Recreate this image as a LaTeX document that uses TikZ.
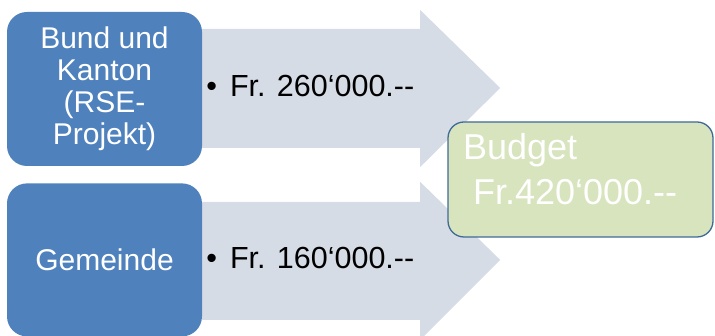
\documentclass[tikz,border=0pt]{standalone}
\usepackage{fontspec}
\setmainfont{Liberation Sans}
\usetikzlibrary{positioning,calc,backgrounds}

\definecolor{srcblue}{HTML}{4F81BD}
\definecolor{flowgray}{HTML}{D6DCE6}
\definecolor{budgetgreen}{HTML}{D7E4BD}
\definecolor{budgetline}{HTML}{3F6A98}

\begin{document}
\begin{tikzpicture}[
  x=1pt, y=1pt,
  node distance=17pt and 4pt,
  source/.style={rectangle, rounded corners=20pt, fill=srcblue, text=white, align=center,
    minimum width=195pt, inner sep=0pt, font=\fontsize{30}{32}\selectfont},
  amount/.style={anchor=base west, inner sep=0pt, font=\fontsize{30.5}{32}\selectfont},
  flow/.style={fill=flowgray},
  budgetbox/.style={rectangle, rounded corners=16pt, draw=budgetline, line width=1.3pt, fill=budgetgreen,
    text=white, align=left, text width=235pt, minimum width=265pt, minimum height=115pt,
    text depth=66pt, inner sep=3pt, font=\fontsize{36}{45}\selectfont}
]
\useasboundingbox (0,0) rectangle (715,336);

% Nodes
\node[source, minimum height=154pt] (bund) at (104.5,247) {Bund und\\Kanton\\(RSE-\\Projekt)};
\node[source, minimum height=153pt, below=of bund] (gemeinde) {Gemeinde};

\node[amount] (betragbund) at ($(bund.east)+(4,-8)$) {\textbullet\hspace{13pt}Fr. 260‘000.-{}-};
\node[amount] (betraggemeinde) at ($(gemeinde.east)+(4,-9)$) {\textbullet\hspace{13pt}Fr. 160‘000.-{}-};

\node[budgetbox] (budget) at (580.5,156.5) {Budget\\\hspace*{0.28em}Fr.420‘000.-{}-};

% Block arrows (behind the boxes)
\begin{scope}[on background layer]
\fill[flow] ($(bund.east)+(0,60)$) -- ++(218,0) -- ++(0,19) -- ($(bund.east)+(298,1)$)
  -- ($(bund.east)+(218,-78)$) -- ++(0,19) -- ($(bund.east)+(0,-59)$) -- cycle;
\fill[flow] ($(gemeinde.east)+(0,58)$) -- ++(218,0) -- ++(0,20) -- ($(gemeinde.east)+(298,0)$)
  -- ($(gemeinde.east)+(218,-80)$) -- ++(0,20) -- ($(gemeinde.east)+(0,-60)$) -- cycle;
\end{scope}

\end{tikzpicture}
\end{document}
